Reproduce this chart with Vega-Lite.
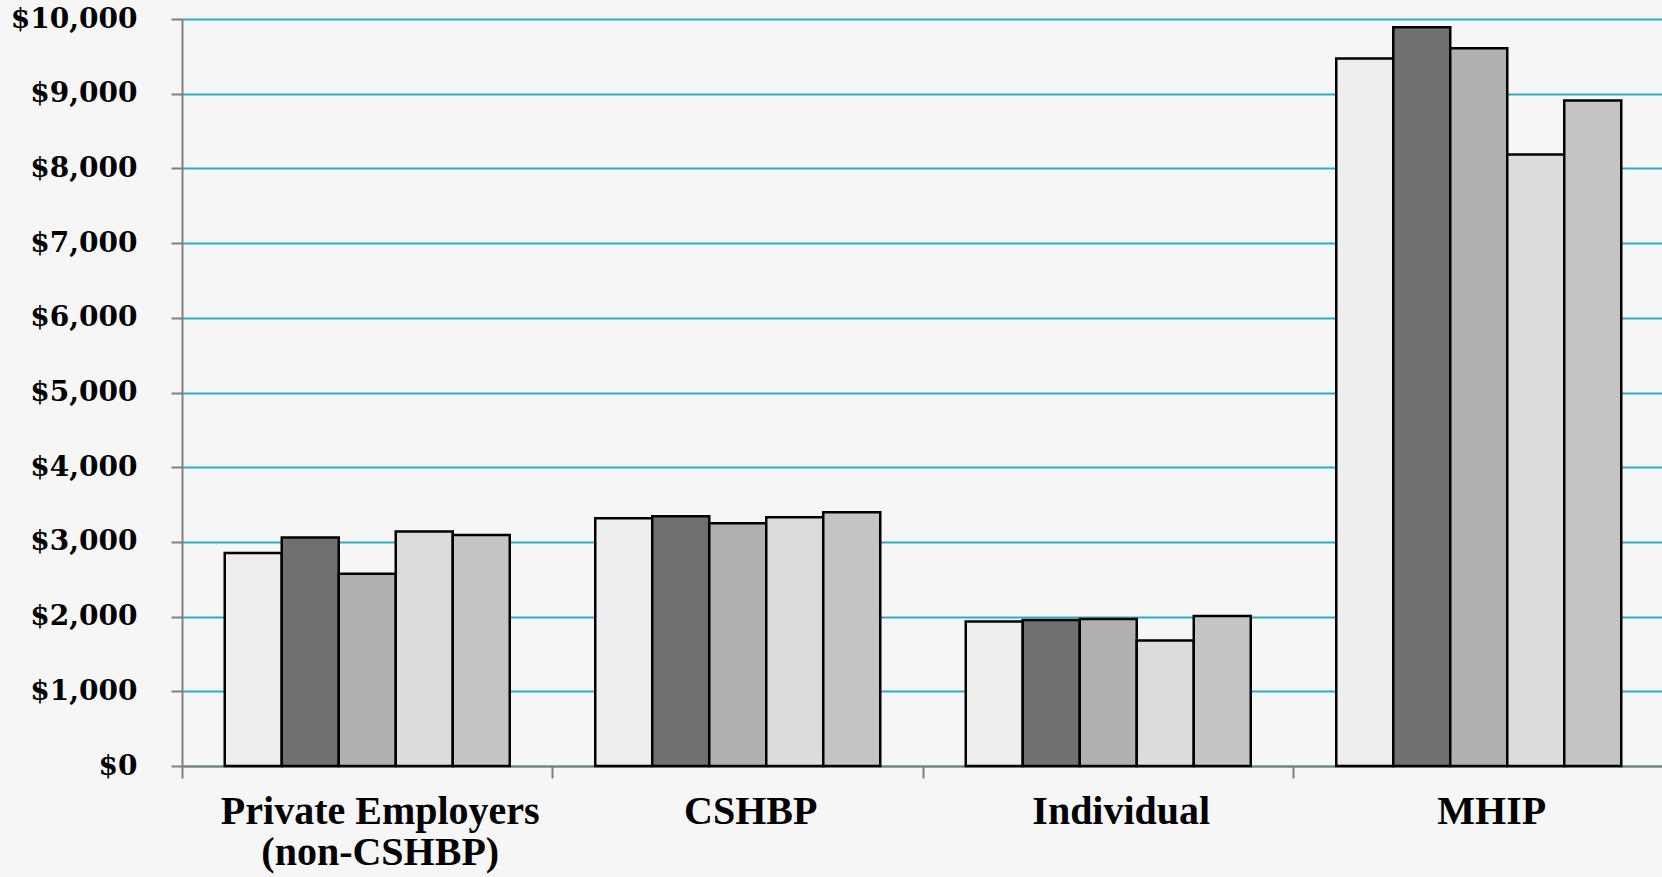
{
  "$schema": "https://vega.github.io/schema/vega-lite/v6.json",
  "autosize": {"type": "none"},
  "padding": {"left": 182, "top": 19, "right": 0, "bottom": 111},
  "width": 1482,
  "height": 747,
  "background": "#f6f6f6",
  "config": {"view": {"stroke": null}},
  "data": {
    "values": [
      {"category": "Private Employers|(non-CSHBP)", "series": "Series 1", "value": 2853},
      {"category": "Private Employers|(non-CSHBP)", "series": "Series 2", "value": 3058},
      {"category": "Private Employers|(non-CSHBP)", "series": "Series 3", "value": 2572},
      {"category": "Private Employers|(non-CSHBP)", "series": "Series 4", "value": 3138},
      {"category": "Private Employers|(non-CSHBP)", "series": "Series 5", "value": 3093},
      {"category": "CSHBP", "series": "Series 1", "value": 3316},
      {"category": "CSHBP", "series": "Series 2", "value": 3343},
      {"category": "CSHBP", "series": "Series 3", "value": 3249},
      {"category": "CSHBP", "series": "Series 4", "value": 3329},
      {"category": "CSHBP", "series": "Series 5", "value": 3396},
      {"category": "Individual", "series": "Series 1", "value": 1933},
      {"category": "Individual", "series": "Series 2", "value": 1956},
      {"category": "Individual", "series": "Series 3", "value": 1969},
      {"category": "Individual", "series": "Series 4", "value": 1679},
      {"category": "Individual", "series": "Series 5", "value": 2009},
      {"category": "MHIP", "series": "Series 1", "value": 9470},
      {"category": "MHIP", "series": "Series 2", "value": 9890},
      {"category": "MHIP", "series": "Series 3", "value": 9610},
      {"category": "MHIP", "series": "Series 4", "value": 8187},
      {"category": "MHIP", "series": "Series 5", "value": 8910}
    ]
  },
  "mark": {"type": "bar", "stroke": "#000000", "strokeWidth": 2.5},
  "encoding": {
    "x": {
      "field": "category",
      "type": "nominal",
      "sort": null,
      "title": null,
      "scale": {"paddingInner": 0, "paddingOuter": 0},
      "axis": {
        "labelAngle": 0,
        "labelExpr": "split(datum.label, '|')",
        "labelFont": "Liberation Serif",
        "labelFontWeight": "bold",
        "labelFontSize": 40,
        "labelLineHeight": 41,
        "labelLimit": 0,
        "labelColor": "#000000",
        "labelPadding": 13,
        "labelOffset": 13,
        "bandPosition": 0,
        "tickSize": 12,
        "tickWidth": 2,
        "tickColor": "#7f7f7f",
        "domainColor": "#7f7f7f",
        "domainWidth": 2,
        "grid": false
      }
    },
    "xOffset": {
      "field": "series",
      "type": "nominal",
      "scale": {"paddingInner": 0, "paddingOuter": 0.75}
    },
    "y": {
      "field": "value",
      "type": "quantitative",
      "title": null,
      "scale": {"domain": [0, 10000], "nice": false},
      "axis": {
        "values": [0, 1000, 2000, 3000, 4000, 5000, 6000, 7000, 8000, 9000, 10000],
        "format": "$,.0f",
        "labelFont": "DejaVu Serif",
        "labelFontWeight": "bold",
        "labelFontSize": 28,
        "labelColor": "#000000",
        "labelPadding": 34,
        "tickSize": 11,
        "tickWidth": 2,
        "tickColor": "#7f7f7f",
        "domainColor": "#7f7f7f",
        "domainWidth": 2,
        "grid": true,
        "gridColor": "#2aadc8",
        "gridWidth": 2
      }
    },
    "color": {
      "field": "series",
      "type": "nominal",
      "legend": null,
      "scale": {
        "domain": ["Series 1", "Series 2", "Series 3", "Series 4", "Series 5"],
        "range": ["#ededed", "#707070", "#b0b0b0", "#dcdcdc", "#c4c4c4"]
      }
    }
  }
}
